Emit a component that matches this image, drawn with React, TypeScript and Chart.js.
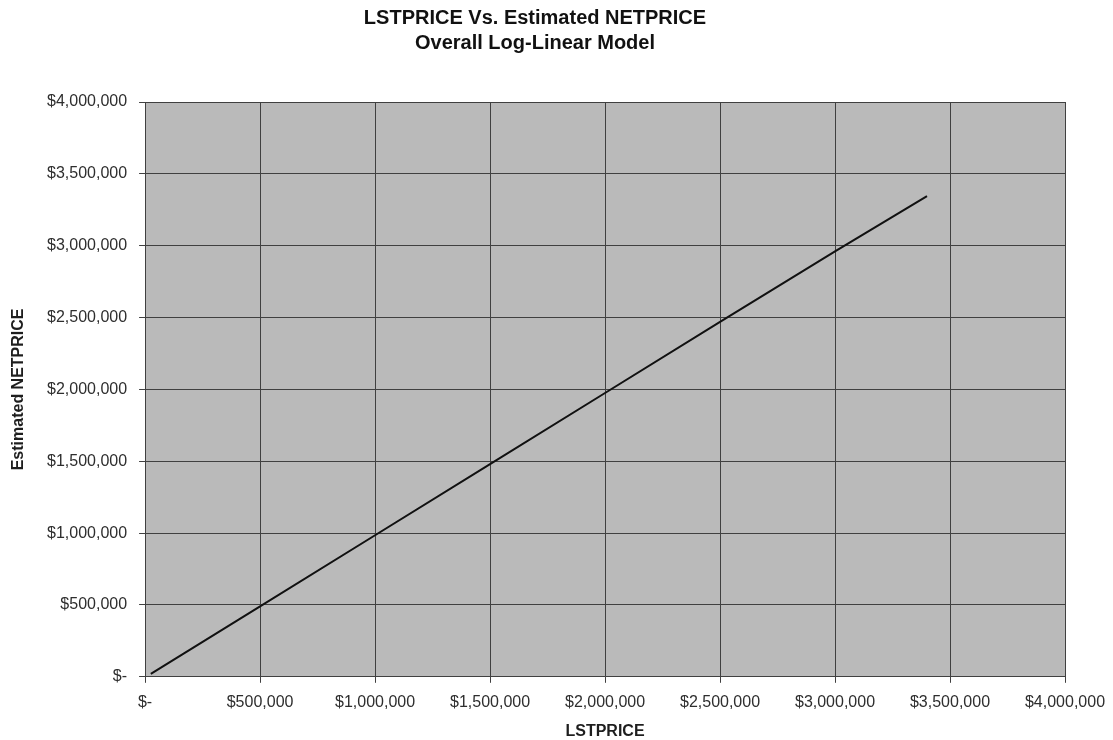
import React, { useEffect, useRef } from "react";
import { Chart, registerables } from "chart.js";

Chart.register(...registerables);

const lstPrice = [25000, 500000, 1000000, 1500000, 2000000, 2500000, 3000000, 3400000];
const estNetPrice = [20000, 490000, 985000, 1480000, 1975000, 2470000, 2960000, 3345000];
const titleLines = ["LSTPRICE Vs. Estimated NETPRICE", "Overall Log-Linear Model"];
const xTitle = "LSTPRICE";
const yTitle = "Estimated NETPRICE";

const fmt = (v: number) => (v === 0 ? "$-" : "$" + v.toLocaleString("en-US"));

const plotBg = {
  id: "plotBg",
  beforeDraw(chart: any) {
    const { ctx, chartArea } = chart;
    if (!chartArea) return;
    ctx.save();
    ctx.fillStyle = "#bababa";
    ctx.fillRect(chartArea.left, chartArea.top, chartArea.right - chartArea.left, chartArea.bottom - chartArea.top);
    ctx.restore();
  },
};

export default function App() {
  const ref = useRef<HTMLCanvasElement>(null);
  useEffect(() => {
    document.body.style.margin = "0";
    const font = "'Liberation Sans', Arial, sans-serif";
    const chart = new Chart(ref.current!, {
      type: "scatter",
      data: {
        datasets: [
          {
            data: lstPrice.map((x, i) => ({ x, y: estNetPrice[i] })),
            showLine: true,
            borderColor: "#111",
            borderWidth: 2,
            pointRadius: 0,
            tension: 0,
          },
        ],
      },
      options: {
        animation: false,
        responsive: false,
        layout: { padding: { left: 5, right: 48, top: 6, bottom: 0 } },
        plugins: {
          legend: { display: false },
          tooltip: { enabled: false },
          title: {
            display: true,
            text: titleLines,
            color: "#111",
            font: { family: font, size: 20, weight: "bold", lineHeight: 1.25 },
            padding: { top: 0, bottom: 46 },
          },
        },
        scales: {
          x: {
            type: "linear",
            min: 0,
            max: 4000000,
            afterFit: (scale: any) => {
              scale.paddingRight = 0;
            },
            ticks: { stepSize: 500000, callback: (v: any) => fmt(Number(v)), color: "#2e2e2e", font: { family: font, size: 16, lineHeight: 1.2 }, maxRotation: 0, padding: 10 },
            grid: { color: "#404040", lineWidth: 1, tickLength: 6, tickColor: "#404040" },
            border: { color: "#404040" },
            title: { display: true, text: xTitle, color: "#1e1e1e", font: { family: font, size: 16, weight: "bold", lineHeight: 1 }, padding: { top: 2, bottom: 0 } },
          },
          y: {
            type: "linear",
            min: 0,
            max: 4000000,
            ticks: { stepSize: 500000, callback: (v: any) => fmt(Number(v)), color: "#2e2e2e", font: { family: font, size: 16 }, padding: 12 },
            grid: { color: "#404040", lineWidth: 1, tickLength: 6, tickColor: "#404040" },
            border: { color: "#404040" },
            title: { display: true, text: yTitle, color: "#1e1e1e", font: { family: font, size: 16, weight: "bold", lineHeight: 1 }, padding: { top: 6, bottom: 8 } },
          },
        },
      },
      plugins: [plotBg],
    });
    return () => chart.destroy();
  }, []);
  return (
    <div style={{ width: 1113, height: 740 }}>
      <canvas ref={ref} width={1113} height={740} />
    </div>
  );
}
